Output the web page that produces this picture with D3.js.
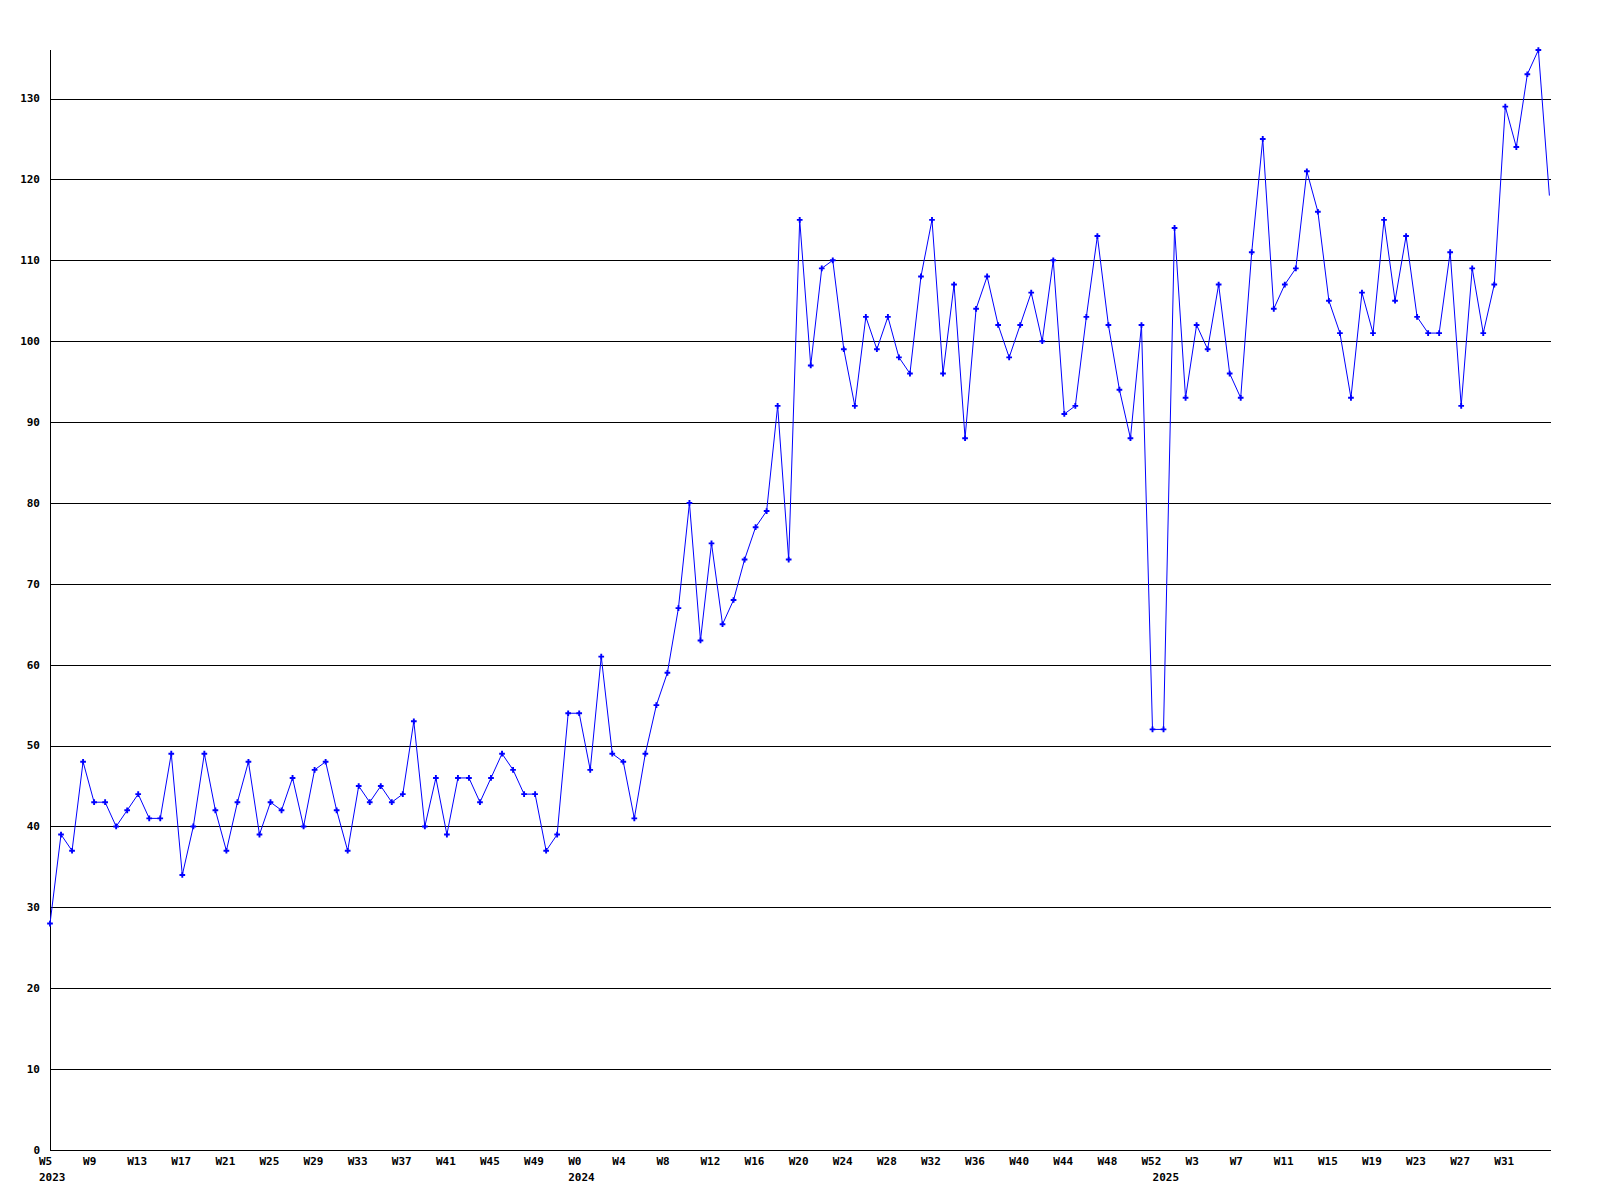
<!DOCTYPE html>
<html>
<head>
<meta charset="utf-8">
<script src="https://cdn.jsdelivr.net/npm/d3@7"></script>
<style>
  html, body { margin: 0; padding: 0; background: #fff; }
  svg { display: block; }
  text { font-family: "DejaVu Sans Mono", "Liberation Mono", monospace; font-weight: bold; font-size: 11px; fill: #000; }
</style>
</head>
<body>
<svg id="chart" width="1600" height="1200"></svg>
<script>
// ---- Data ----
const years = ["2023", "2024", "2025"];
const weeks2023 = d3.range(5, 53);   // W5..W52
const values2023 = [28,39,37,48,43,43,40,42,44,41,41,49,34,40,49,42,37,43,48,39,43,42,46,40,47,48,42,37,45,43,45,43,44,53,40,46,39,46,46,43,46,49,47,44,44,37,39,54];
const weeks2024 = d3.range(0, 53);   // W0..W52
const values2024 = [54,47,61,49,48,41,49,55,59,67,80,63,75,65,68,73,77,79,92,73,115,97,109,110,99,92,103,99,103,98,96,108,115,96,107,88,104,108,102,98,102,106,100,110,91,92,103,113,102,94,88,102,52];
const weeks2025 = d3.range(0, 36);   // W0..W35
const values2025 = [52,114,93,102,99,107,96,93,111,125,104,107,109,121,116,105,101,93,106,101,115,105,113,103,101,101,111,92,109,101,107,129,124,133,136,118];
const yTicks = [0,10,20,30,40,50,60,70,80,90,100,110,120,130];

(function () {
// ---- Build series ----
const series = [];
[[years[0], weeks2023, values2023], [years[1], weeks2024, values2024], [years[2], weeks2025, values2025]]
  .forEach(([yr, wks, vals]) => {
    wks.forEach((w, i) => series.push({ year: yr, week: w, value: vals[i], firstOfYear: i === 0 }));
  });
series.forEach((d, i) => d.idx = i);

// ---- Layout ----
const mLeft = 50, mRight = 1551, mTop = 50, mBottom = 1150;
const step = 11.025;
const svg = d3.select("#chart");
svg.append("rect").attr("width", 1600).attr("height", 1200).attr("fill", "#fff");

const x = d3.scaleLinear().domain([0, series.length - 1]).range([mLeft, mLeft + (series.length - 1) * step]);
const y = d3.scaleLinear().domain([0, 136]).range([mBottom, mTop]);

// gridlines
svg.append("g").selectAll("line").data(yTicks.filter(t => t > 0)).join("line")
  .attr("x1", mLeft).attr("x2", mRight)
  .attr("y1", d => Math.round(y(d)) + 0.5).attr("y2", d => Math.round(y(d)) + 0.5)
  .attr("stroke", "#000").attr("stroke-width", 1).attr("shape-rendering", "crispEdges");

// axes lines
svg.append("line").attr("x1", mLeft + 0.5).attr("x2", mLeft + 0.5).attr("y1", mTop).attr("y2", mBottom + 0.5)
  .attr("stroke", "#000").attr("shape-rendering", "crispEdges");
svg.append("line").attr("x1", mLeft).attr("x2", mRight).attr("y1", mBottom + 0.5).attr("y2", mBottom + 0.5)
  .attr("stroke", "#000").attr("shape-rendering", "crispEdges");

// y tick labels
svg.append("g").selectAll("text").data(yTicks).join("text")
  .attr("x", 40).attr("y", d => y(d)).attr("dy", "0.35em")
  .attr("text-anchor", "end").text(d => d);

// x tick labels (every 4th week)
const labeled = series.filter(d => d.idx % 4 === 0 && d.idx < series.length - 1);
svg.append("g").selectAll("text").data(labeled).join("text")
  .attr("x", d => x(d.idx) - 11).attr("y", 1161).attr("dy", "0.35em")
  .attr("text-anchor", "start").text(d => "W" + d.week);

// year labels
svg.append("g").selectAll("text").data(series.filter(d => d.firstOfYear)).join("text")
  .attr("x", d => x(d.idx) - 11).attr("y", 1177).attr("dy", "0.35em")
  .attr("text-anchor", "start").text(d => d.year);

// line
const line = d3.line().x(d => x(d.idx)).y(d => y(d.value));
svg.append("path").datum(series).attr("d", line)
  .attr("fill", "none").attr("stroke", "#0000ff").attr("stroke-width", 1);

// markers
const cross = d3.symbol().type(d3.symbolCross).size(18);
svg.append("g").selectAll("path").data(series.slice(0, series.length - 1)).join("path")
  .attr("transform", d => `translate(${x(d.idx)},${y(d.value)})`)
  .attr("d", cross).attr("fill", "#0000ff");
})();
</script>
</body>
</html>
